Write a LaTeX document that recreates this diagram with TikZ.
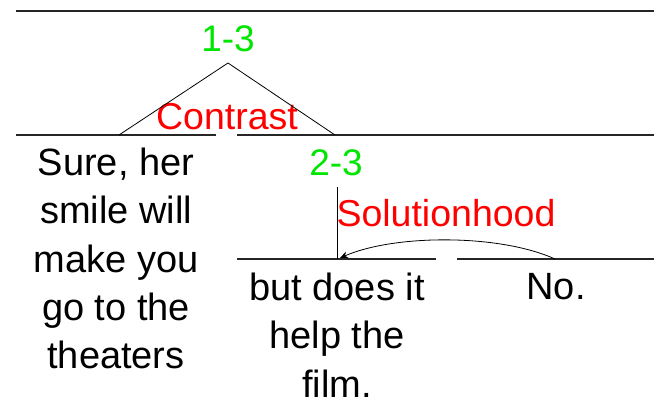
\documentclass[tikz,border=0pt]{standalone}
\usepackage{fontspec}
\setmainfont{Liberation Sans}
\usetikzlibrary{arrows.meta}
\definecolor{relgreen}{RGB}{0,230,0}
\definecolor{relred}{RGB}{255,0,0}
\tikzset{
  span/.style={line width=1.3pt, draw=black!85},
  thinline/.style={line width=0.8pt, draw=black},
  segtext/.style={font=\fontsize{38}{48.25}\selectfont, align=center, inner sep=0pt, anchor=north, text=black},
  spanlabel/.style={font=\fontsize{37}{44}\selectfont, text=relgreen, inner sep=0pt, anchor=base},
  rellabel/.style={font=\fontsize{37.5}{44}\selectfont, text=relred, inner sep=0pt, anchor=base},
}
\begin{document}
\begin{tikzpicture}[x=1pt,y=-1pt]
\useasboundingbox (0,0) rectangle (654,401);
% coordinates
\coordinate (topL) at (16,11);
\coordinate (topR) at (654,11);
\coordinate (midAL) at (16,135);
\coordinate (midAR) at (216,135);
\coordinate (midBL) at (237,135);
\coordinate (midBR) at (654,135);
\coordinate (lowAL) at (237,259);
\coordinate (lowAR) at (436,259);
\coordinate (lowBL) at (457,259);
\coordinate (lowBR) at (654,259);
\coordinate (apex) at (228,63);
\coordinate (lfoot) at (119,135);
\coordinate (rfoot) at (335,135);
\coordinate (vtop) at (337,187);
\coordinate (vbot) at (337,259);
\coordinate (nofoot) at (555,259);
\coordinate (tip) at (340,258);
% span lines
\draw[span] (topL) -- (topR);
\draw[span] (midAL) -- (midAR);
\draw[span] (midBL) -- (midBR);
\draw[span] (lowAL) -- (lowAR);
\draw[span] (lowBL) -- (lowBR);
% labels
\node[spanlabel] (l13) at (228,52) {1-3};
\node[rellabel] (contrast) at (227,130) {Contrast};
\node[spanlabel] (l23) at (336,176) {2-3};
\node[rellabel] (sol) at (446,227) {Solutionhood};
% tree lines
\draw[thinline] (lfoot) -- (apex) -- (rfoot);
\draw[thinline] (vtop) -- (vbot);
\draw[thinline, -{Stealth[length=8pt,width=7pt]}] (nofoot) .. controls (500,234) and (395,234) .. (tip);
% segment texts
\node[segtext] (seg1) at (116,148) {Sure, her\\smile will\\make you\\go to the\\theaters};
\node[segtext] (seg2) at (337,273) {but does it\\help the\\film.};
\node[segtext] (seg3) at (556,273) {No.};
\end{tikzpicture}
\end{document}
